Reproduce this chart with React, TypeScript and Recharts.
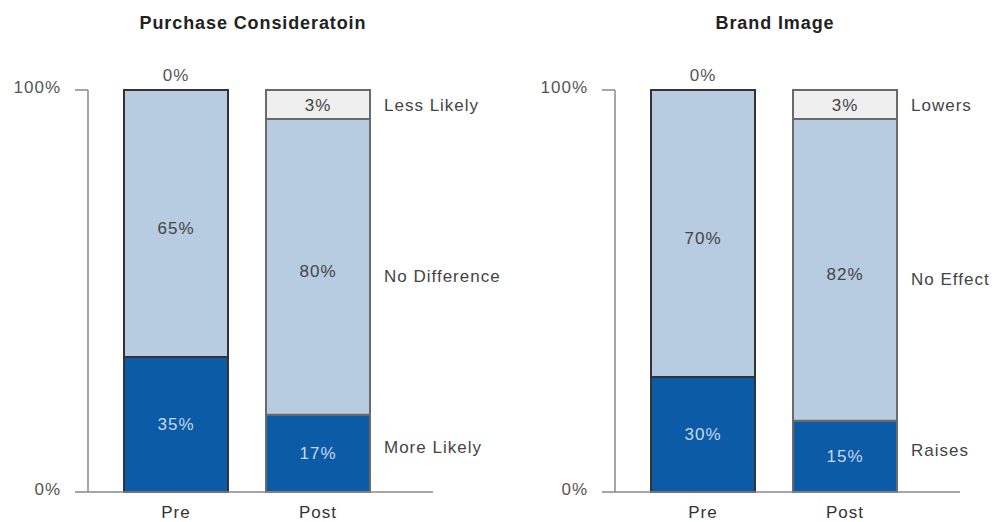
import React from 'react';
import { BarChart, Bar, XAxis, YAxis, LabelList, Cell } from 'recharts';

// categories
const periods = ['Pre', 'Post'];
const yTicks = [0, 100];

// Purchase Consideration (bar heights, labels as printed)
const pcMore = [33.6, 19.2];
const pcSame = [66.4, 73.6];
const pcLess = [0, 7.2];
const pcMoreLabels = ['35%', '17%'];
const pcSameLabels = ['65%', '80%'];
const pcLessLabels = ['0%', '3%'];
const pcSeriesNames = ['More Likely', 'No Difference', 'Less Likely'];

// Brand Image
const biMore = [28.6, 17.7];
const biSame = [71.4, 75.1];
const biLess = [0, 7.2];
const biMoreLabels = ['30%', '15%'];
const biSameLabels = ['70%', '82%'];
const biLessLabels = ['0%', '3%'];
const biSeriesNames = ['Raises', 'No Effect', 'Lowers'];

const DARK = '#0b5ba6';
const LIGHT = '#b7cbe1';
const TOP = '#efefef';
const STROKES = ['#333333', '#6a6a6a'];
const FONT = '"Liberation Sans", Arial, sans-serif';

function valueLabel(color: string, above: boolean, dy: number) {
  return (props: any) => {
    const { x, y, width, height, value } = props;
    if (value === undefined || value === null || value === '') return null;
    const cx = Number(x) + Number(width) / 2;
    const h = Number(height);
    const cy = above ? Number(y) - 15 : Number(y) + h / 2 + dy;
    return (
      <text x={cx} y={cy} textAnchor="middle" dominantBaseline="central" fill={color}
        fontSize={17} letterSpacing={1} fontFamily={FONT}>
        {value}
      </text>
    );
  };
}

function nameLabel(dy: number) {
  return (props: any) => {
    const { x, y, width, height, value } = props;
    if (!value) return null;
    const cy = Number(y) + Number(height) / 2 + dy;
    return (
      <text x={Number(x) + Number(width) + 14} y={cy} textAnchor="start" dominantBaseline="central" fill="#444"
        fontSize={17} letterSpacing={1} fontFamily={FONT}>
        {value}
      </text>
    );
  };
}

type PanelProps = {
  title: string;
  more: number[];
  same: number[];
  less: number[];
  moreLabels: string[];
  sameLabels: string[];
  lessLabels: string[];
  names: string[];
  left: number;
  width: number;
  titleX: number;
};

function Panel(p: PanelProps) {
  const last = periods.length - 1;
  const data = periods.map((period, i) => ({
    period,
    more: p.more[i],
    same: p.same[i],
    less: p.less[i],
    moreLabel: p.moreLabels[i],
    sameLabel: p.sameLabels[i],
    lessLabel: p.less[i] > 0 ? p.lessLabels[i] : '',
    lessAbove: p.less[i] > 0 ? '' : p.lessLabels[i],
    moreName: i === last ? p.names[0] : '',
    sameName: i === last ? p.names[1] : '',
    lessName: i === last ? p.names[2] : '',
  }));
  return (
    <div style={{ position: 'absolute', left: p.left, top: 0, width: p.width, height: 522 }}>
      <div style={{ position: 'absolute', left: p.titleX - 150, width: 300, top: 13, textAlign: 'center',
        fontSize: 18, fontWeight: 'bold', letterSpacing: 0.9, color: '#222', fontFamily: FONT }}>
        {p.title}
      </div>
      <BarChart width={p.width} height={522} data={data}
        margin={{ top: 90, right: p.width - 433, bottom: 0, left: 0 }} barSize={104}>
        <YAxis type="number" domain={[0, 100]} ticks={yTicks} tickFormatter={(v: number) => `${v}%`}
          width={88} tickSize={13} tickMargin={14} axisLine={{ stroke: '#888', strokeWidth: 1.5 }}
          tickLine={{ stroke: '#888', strokeWidth: 1.5 }}
          tick={{ fontSize: 17, fill: '#555', fontFamily: FONT, letterSpacing: 1, dy: -3 }}
          interval={0} />
        <XAxis dataKey="period" type="category" height={30} padding={{ left: 17, right: 44 }}
          axisLine={{ stroke: '#888', strokeWidth: 1.5 }} tickLine={false} tickSize={0} tickMargin={14}
          tick={{ fontSize: 17, fill: '#333', fontFamily: FONT, letterSpacing: 1 }} />
        <Bar dataKey="more" stackId="s" fill={DARK} strokeWidth={2} isAnimationActive={false}>
          {data.map((_, i) => <Cell key={i} stroke={STROKES[i]} />)}
          <LabelList dataKey="moreLabel" content={valueLabel('#c9d7ef', false, 0)} />
          <LabelList dataKey="moreName" content={nameLabel(-6)} />
        </Bar>
        <Bar dataKey="same" stackId="s" fill={LIGHT} strokeWidth={2} isAnimationActive={false}>
          {data.map((_, i) => <Cell key={i} stroke={STROKES[i]} />)}
          <LabelList dataKey="sameLabel" content={valueLabel('#444', false, 5)} />
          <LabelList dataKey="lessAbove" content={valueLabel('#555', true, 0)} />
          <LabelList dataKey="sameName" content={nameLabel(10)} />
        </Bar>
        <Bar dataKey="less" stackId="s" fill={TOP} strokeWidth={2} isAnimationActive={false}>
          {data.map((_, i) => <Cell key={i} stroke={STROKES[i]} />)}
          <LabelList dataKey="lessLabel" content={valueLabel('#444', false, 1)} />
          <LabelList dataKey="lessName" content={nameLabel(1)} />
        </Bar>
      </BarChart>
    </div>
  );
}

export default function App() {
  return (
    <div style={{ position: 'absolute', left: 0, top: 0, width: 995, height: 522, background: '#fff', fontFamily: FONT }}>
      <Panel title="Purchase Consideratoin" more={pcMore} same={pcSame} less={pcLess}
        moreLabels={pcMoreLabels} sameLabels={pcSameLabels} lessLabels={pcLessLabels}
        names={pcSeriesNames} left={0} width={527} titleX={253} />
      <Panel title="Brand Image" more={biMore} same={biSame} less={biLess}
        moreLabels={biMoreLabels} sameLabels={biSameLabels} lessLabels={biLessLabels}
        names={biSeriesNames} left={527} width={468} titleX={248} />
    </div>
  );
}
